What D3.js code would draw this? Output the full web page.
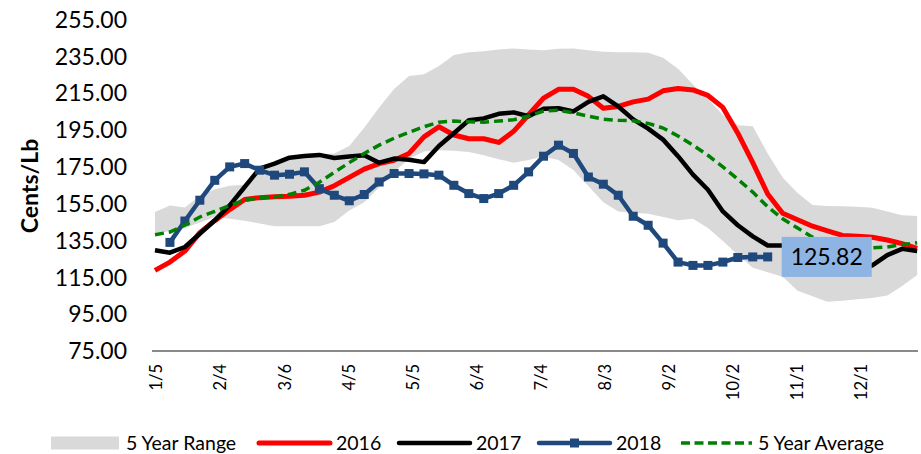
<!DOCTYPE html>
<html>
<head>
<meta charset="utf-8">
<script src="https://cdn.jsdelivr.net/npm/d3@7"></script>
<style>
  html, body { margin: 0; padding: 0; background: #fff; }
  svg { display: block; font-family: Lato, "Open Sans", sans-serif; }
</style>
</head>
<body>
<svg id="chart" width="921" height="454"></svg>
<script>
// ---------------- DATA ----------------
const weekStart = "2018-01-05";         // first weekly observation (Friday)
const weekCount = 52;
const start2018Index = 1;               // 2018 series starts the week of 1/12

const xTickLabels = ["1/5","2/4","3/6","4/5","5/5","6/4","7/4","8/3","9/2","10/2","11/1","12/1"];
const yTicks = [75, 95, 115, 135, 155, 175, 195, 215, 235, 255];

const rangeMax = [150.2,153.8,152.6,159,162.5,164.5,165,173.8,176.5,179.7,180.6,181.5,182,186,196,207,217,224,225,229.5,235.5,237,237.5,238.5,239,238.5,238,238.8,239,238,237.2,237,237,236.7,234,228,219.5,211.5,203,197.3,196.8,182,169,160.5,154,153.5,153.3,153,152.5,150.5,148.4,148];
const rangeMin = [138,140,141.5,144.5,147.5,146.5,145.5,144,142.4,142.4,142.4,142.4,144.8,151,155.5,163.5,172,179,183,183.8,183.5,182.8,181,178.8,177,178.5,180.3,178.5,173,164.3,155.5,150.5,149.8,149.3,147.5,145.7,146.5,141.5,134.5,127,120,117.5,115,107.5,104.5,101.5,102,102.8,103.5,104.8,110,116];
const s2016 = [118.5,123,129,139,145.5,151.5,157,158,158.5,158.7,159.3,161,164.5,169,173.5,176.5,178.3,182,191,196.5,192,190,190,188,194,203,212,216.8,216.8,213,206.5,207.5,210,211.5,216,217.3,216.5,213.5,207,193,177,160,149.5,146,142.5,140,137.5,137,136.5,135,133,130.5];
const s2017 = [129.4,128.1,131.2,138.4,145.7,153.8,163.8,173.8,176.5,179.7,180.6,181.2,179.5,180.3,181,177,179.2,178.6,177.3,186,193,200,201,203.5,204.3,202.2,206.3,206.5,204.8,210,213,207.5,200.5,195.5,189.5,180.5,170.5,162.3,150.5,143,137,132,132,131,128,125,122.5,121,121.2,126.8,130.2,129];
const s2018 = [133.7,145.3,156.6,167.4,174.7,176.5,172.9,170.2,170.7,172.0,162.9,159.3,156.3,159.7,166.5,171.1,171.1,170.9,170.2,164.7,160.2,157.5,160.2,164.7,172.0,180.5,186.5,182.0,169.2,165.3,159.3,147.9,143.0,133.3,123.0,121.2,121.2,123.0,125.5,125.8,125.82];
const avg5 = [137.9,139.3,143,147.5,150.6,153.8,156.6,158,158.4,159.8,162,166.4,171.8,177,182,186.5,190.3,193.5,196.5,199,199.6,199.2,199,199.6,200.3,202.3,205,205.5,204,202.2,200.6,200,199.7,198.3,195.8,191.5,186.5,181,174.7,168,161,153,146.5,141.5,136.5,134,132.5,131.5,130.8,131.2,132.5,133.5];

const legendItems = [
  { key: "range", label: "5 Year Range" },
  { key: "2016",  label: "2016" },
  { key: "2017",  label: "2017" },
  { key: "2018",  label: "2018" },
  { key: "avg",   label: "5 Year Average" }
];
const yTitle = "Cents/Lb";

// ---------------- SETUP ----------------
const DAY = 86400000;
const t0 = Date.parse(weekStart + "T00:00:00Z");
const weeks = d3.range(weekCount).map(i => new Date(t0 + 7 * i * DAY));
const weeks2018 = weeks.slice(start2018Index, start2018Index + s2018.length);

const x = d3.scaleUtc()
  .domain([new Date(t0 - 1.4 * DAY), new Date(t0 + 357.4 * DAY)])
  .range([152, 918]);
const y = d3.scaleLinear().domain([75, 255]).range([350.5, 19]);

const svg = d3.select("#chart");

const COLORS = { range: "#D9D9D9", "2016": "#FF0000", "2017": "#000000", "2018": "#1F497D", avg: "#008000" };

// band
const band = weeks.map((d, i) => ({ d, lo: rangeMin[i], hi: rangeMax[i] }));
svg.append("path")
  .datum(band)
  .attr("fill", COLORS.range)
  .attr("d", d3.area().x(p => x(p.d)).y0(p => y(p.lo)).y1(p => y(p.hi)));

const line = d3.line().x(p => x(p.d)).y(p => y(p.v));
function series(dates, vals) { return dates.map((d, i) => ({ d, v: vals[i] })); }

svg.append("path").datum(series(weeks, s2016))
  .attr("fill", "none").attr("stroke", COLORS["2016"]).attr("stroke-width", 5)
  .attr("stroke-linejoin", "round").attr("d", line);
svg.append("path").datum(series(weeks, s2017))
  .attr("fill", "none").attr("stroke", COLORS["2017"]).attr("stroke-width", 4.5)
  .attr("stroke-linejoin", "round").attr("d", line);

const d2018 = series(weeks2018, s2018);
svg.append("path").datum(d2018)
  .attr("fill", "none").attr("stroke", COLORS["2018"]).attr("stroke-width", 4.5)
  .attr("stroke-linejoin", "round").attr("d", line);
svg.append("g").selectAll("rect").data(d2018).join("rect")
  .attr("x", p => x(p.d) - 4.5).attr("y", p => y(p.v) - 4.5)
  .attr("width", 9).attr("height", 9)
  .attr("fill", COLORS["2018"]);

svg.append("path").datum(series(weeks, avg5))
  .attr("fill", "none").attr("stroke", COLORS.avg).attr("stroke-width", 3.5)
  .attr("stroke-dasharray", "9,5").attr("d", line);

// x axis
const xTickDates = xTickLabels.map(s => {
  const [m, dd] = s.split("/").map(Number);
  return new Date(Date.UTC(2018, m - 1, dd));
});
const xAxis = svg.append("g").attr("transform", "translate(0,351)")
  .call(d3.axisBottom(x).tickValues(xTickDates).tickSize(0)
    .tickFormat((d, i) => xTickLabels[i]));
xAxis.select(".domain").attr("stroke", "#898989").attr("stroke-width", 2.2)
  .attr("d", "M152,0H918");
xAxis.selectAll(".tick text")
  .attr("transform", "translate(1,13) rotate(-90)")
  .attr("text-anchor", "end")
  .attr("x", 0).attr("y", 0).attr("dy", "0.36em")
  .attr("font-family", "Lato, sans-serif")
  .attr("font-size", 16.5).attr("fill", "#000");

// y axis
const yAxis = svg.append("g").attr("transform", "translate(127,0)")
  .call(d3.axisLeft(y).tickValues(yTicks).tickSize(0).tickPadding(0).tickFormat(d3.format(".2f")));
yAxis.select(".domain").remove();
yAxis.selectAll(".tick text")
  .attr("font-family", "Lato, sans-serif")
  .attr("font-size", 23).attr("fill", "#000").attr("dy", "0.36em");

// y title
svg.append("text")
  .attr("transform", "translate(30,186) rotate(-90)")
  .attr("text-anchor", "middle").attr("dy", "0.36em")
  .attr("font-weight", "bold").attr("font-size", 23)
  .text(yTitle);

// last value label
const last = d2018[d2018.length - 1];
const lx = x(last.d) + 14, ly = y(last.v);
svg.append("rect").attr("x", lx).attr("y", ly - 20).attr("width", 90).attr("height", 40)
  .attr("fill", "#8DB4E2");
svg.append("text").attr("x", lx + 45).attr("y", ly).attr("dy", "0.36em")
  .attr("text-anchor", "middle").attr("font-size", 23).attr("fill", "#000")
  .text(d3.format(".2f")(last.v));

// legend
const legendX = { range: 51, "2016": 259, "2017": 399, "2018": 539, avg: 681 };
const legY = 443;
const lg = svg.append("g");
legendItems.forEach(it => {
  const x0 = legendX[it.key];
  const g = lg.append("g");
  if (it.key === "range") {
    g.append("rect").attr("x", x0).attr("y", legY - 6.5).attr("width", 68).attr("height", 13)
      .attr("fill", COLORS.range);
  } else {
    const ln = g.append("line").attr("x1", x0).attr("x2", x0 + 71).attr("y1", legY).attr("y2", legY)
      .attr("stroke", COLORS[it.key]).attr("stroke-linecap", it.key === "avg" ? "butt" : "round");
    if (it.key === "avg") ln.attr("stroke-width", 3.5).attr("stroke-dasharray", "9,4.5");
    else ln.attr("stroke-width", it.key === "2016" ? 5 : 4.5);
    if (it.key === "2018") {
      g.append("rect").attr("x", x0 + 35.5 - 4.5).attr("y", legY - 4.5).attr("width", 9).attr("height", 9)
        .attr("fill", COLORS["2018"]);
    }
  }
  g.append("text").attr("x", x0 + (it.key === "range" ? 75 : 77)).attr("y", legY).attr("dy", "0.36em")
    .attr("font-size", 19.5).attr("fill", "#000").text(it.label);
});
</script>
</body>
</html>
